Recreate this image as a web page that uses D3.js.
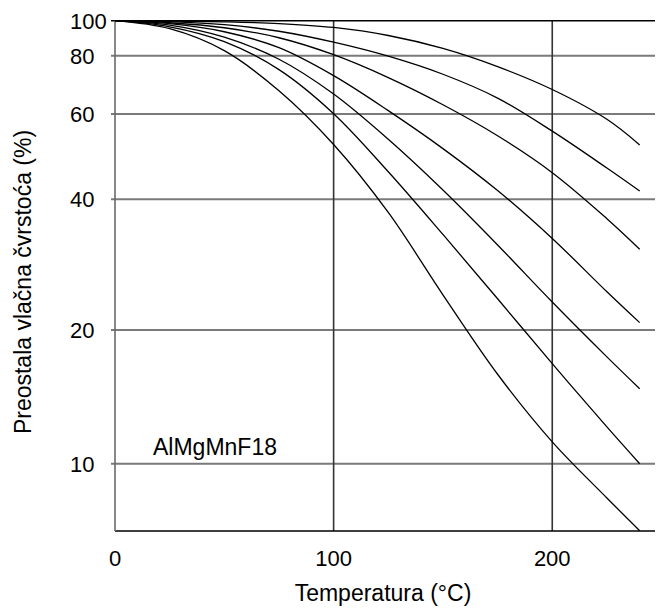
<!DOCTYPE html>
<html>
<head>
<meta charset="utf-8">
<script src="https://cdn.jsdelivr.net/npm/d3@7"></script>
<style>
  body { margin: 0; background: #fff; }
  text { font-family: "Liberation Sans", Arial, sans-serif; fill: #000; }
</style>
</head>
<body>
<svg width="656" height="610"></svg>
<script>
// temperatures (°C) where the curves were read
var temps = [0, 25, 50, 75, 100, 125, 150, 175, 200, 225, 240];

// remaining tensile strength (%), one array per curve, top to bottom
var curve1 = [100, 99.8, 99.3, 98.2, 95.8, 91.0, 83.8, 75.8, 67.7, 58.5, 51.8];
var curve2 = [100, 99.4, 97.5, 93.5, 87.2, 79.8, 73.0, 64.9, 55.3, 46.4, 41.6];
var curve3 = [100, 98.7, 95.6, 89.7, 80.5, 71.8, 62.8, 54.1, 45.4, 36.1, 30.7];
var curve4 = [100, 98.1, 93.2, 84.2, 72.5, 61.0, 50.9, 41.7, 32.5, 24.5, 20.8];
var curve5 = [100, 97.2, 90.0, 78.6, 66.2, 53.2, 41.8, 31.4, 23.2, 17.4, 14.75];
var curve6 = [100, 96.2, 87.5, 74.7, 60.1, 45.6, 33.2, 23.6, 16.8, 12.1, 10.0];
var curve7 = [100, 95.0, 82.6, 67.3, 51.9, 37.3, 24.1, 15.9, 11.2, 8.37, 7.06];

var xTicks = [0, 100, 200];
var yTicks = [10, 20, 40, 60, 80, 100];

var alloyLabel = "AlMgMnF18";
var xTitle = "Temperatura (°C)";
var yTitle = "Preostala vlačna čvrstoća (%)";

var svg = d3.select("svg");

// scales (y axis of the original is a slightly uneven log scale)
var x = d3.scaleLinear()
    .domain([0, 247])
    .range([115, 655]);
var y = d3.scaleLog()
    .domain([7.05, 10, 20, 40, 60, 80, 100])
    .range([531, 463.7, 330, 199.3, 114, 55.7, 20.7]);

var x0 = x(0), x1 = x.range()[1];
var yBottom = y(7.05), yTop = y(100);

// horizontal grid lines
svg.append("g")
    .selectAll("line")
    .data(yTicks.filter(function (d) { return d < 100; }))
    .enter()
    .append("line")
    .attr("x1", x0 - 4)
    .attr("x2", x1)
    .attr("y1", function (d) { return y(d); })
    .attr("y2", function (d) { return y(d); })
    .attr("stroke", "#7a7a7a")
    .attr("stroke-width", 2);

// vertical grid lines
svg.append("g")
    .selectAll("line")
    .data(xTicks.filter(function (d) { return d > 0; }))
    .enter()
    .append("line")
    .attr("x1", function (d) { return x(d); })
    .attr("x2", function (d) { return x(d); })
    .attr("y1", yTop)
    .attr("y2", yBottom)
    .attr("stroke", "#333")
    .attr("stroke-width", 1.6);

// frame: top and bottom black, left gray
svg.append("line")
    .attr("x1", x0 - 4).attr("x2", x1)
    .attr("y1", yTop).attr("y2", yTop)
    .attr("stroke", "#000").attr("stroke-width", 1.6);
svg.append("line")
    .attr("x1", x0).attr("x2", x1)
    .attr("y1", yBottom).attr("y2", yBottom)
    .attr("stroke", "#000").attr("stroke-width", 1.6);
svg.append("line")
    .attr("x1", x0).attr("x2", x0)
    .attr("y1", yTop).attr("y2", yBottom)
    .attr("stroke", "#6a6a6a").attr("stroke-width", 1.6);

// curves
var line = d3.line()
    .x(function (d) { return x(d[0]); })
    .y(function (d) { return y(d[1]); })
    .curve(d3.curveCatmullRom.alpha(0.5));

var curves = [curve1, curve2, curve3, curve4, curve5, curve6, curve7];
svg.append("g")
    .selectAll("path")
    .data(curves)
    .enter()
    .append("path")
    .attr("d", function (c) { return line(d3.zip(temps, c)); })
    .attr("fill", "none")
    .attr("stroke", "#000")
    .attr("stroke-width", 1.3);

// y tick labels
svg.append("g")
    .selectAll("text")
    .data(yTicks)
    .enter()
    .append("text")
    .attr("x", 70)
    .attr("y", function (d) { return y(d); })
    .attr("dy", "0.36em")
    .style("font-size", "22px")
    .text(function (d) { return d; });

// x tick labels
svg.append("g")
    .selectAll("text")
    .data(xTicks)
    .enter()
    .append("text")
    .attr("x", function (d) { return x(d); })
    .attr("y", 566)
    .attr("text-anchor", "middle")
    .style("font-size", "22px")
    .text(function (d) { return d; });

// titles
svg.append("text")
    .attr("x", 383)
    .attr("y", 601)
    .attr("text-anchor", "middle")
    .style("font-size", "23px")
    .text(xTitle);

svg.append("text")
    .attr("transform", "translate(31,282) rotate(-90)")
    .attr("text-anchor", "middle")
    .style("font-size", "23px")
    .text(yTitle);

svg.append("text")
    .attr("x", 153)
    .attr("y", 455)
    .style("font-size", "23px")
    .text(alloyLabel);
</script>
</body>
</html>
